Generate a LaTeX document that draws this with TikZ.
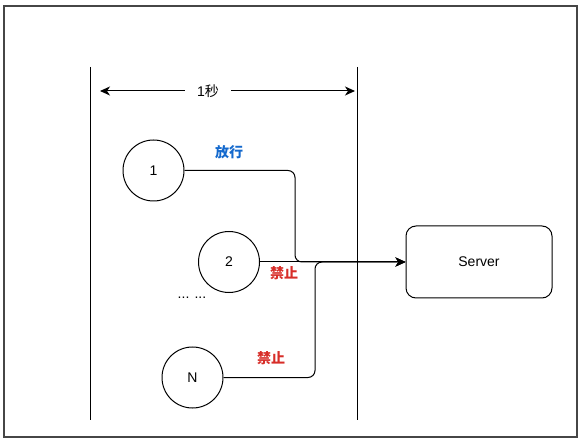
\documentclass[tikz,border=0pt]{standalone}
\usepackage{fontspec}
\setmainfont{Liberation Sans}
\newfontfamily\cjk{Noto Sans CJK SC}
\usepackage{tikz}
\usetikzlibrary{arrows.meta}
\usepackage{xcolor}
\definecolor{cbleu}{RGB}{20,105,205}
\definecolor{crouge}{RGB}{215,45,40}
\definecolor{cgris}{RGB}{70,70,70}

\begin{document}
\begin{tikzpicture}[x=1pt, y=-1pt, >={Stealth[length=10pt,width=9pt,inset=3pt]},
  every node/.style={font=\fontsize{14}{16}\selectfont},
  req/.style={circle, draw, line width=1pt, minimum size=61pt, inner sep=0pt},
  lien/.style={line width=1pt, rounded corners=7pt, ->}]
\useasboundingbox (0,0) rectangle (583,443);
\draw[cgris, line width=1.6pt] (4,6) rectangle (577,437);
% fenetre d'une seconde
\draw[line width=1pt] (90,67) -- (90,420);
\draw[line width=1pt] (357,67) -- (357,420);
\node[inner xsep=12pt] (sec) at (208,91) {1\cjk 秒};
\draw[line width=1pt,->] (sec.west) -- (100,91);
\draw[line width=1pt,->] (sec.east) -- (355,91);
% requetes
\node[req] (c1) at (153.5,170.5) {1};
\node[req] (c2) at (229,262) {2};
\node[req] (cN) at (192.5,377.5) {N};
\node (dots) at (192,298) {... ...};
\node[draw, line width=1pt, rounded corners=10pt, minimum width=146pt, minimum height=72pt] (server) at (479,262) {Server};
\draw[lien] (c1.east) -- (295,170.5) |- (server.west);
\draw[lien] (cN.east) -- (315,377.5) |- (server.west);
\draw[lien] (c2.east) -- (server.west);
\node[cbleu] (ok) at (229,152) {\cjk\bfseries 放行};
\node[crouge] (no2) at (284,273) {\cjk\bfseries 禁止};
\node[crouge] (noN) at (271,358) {\cjk\bfseries 禁止};
\end{tikzpicture}
\end{document}
